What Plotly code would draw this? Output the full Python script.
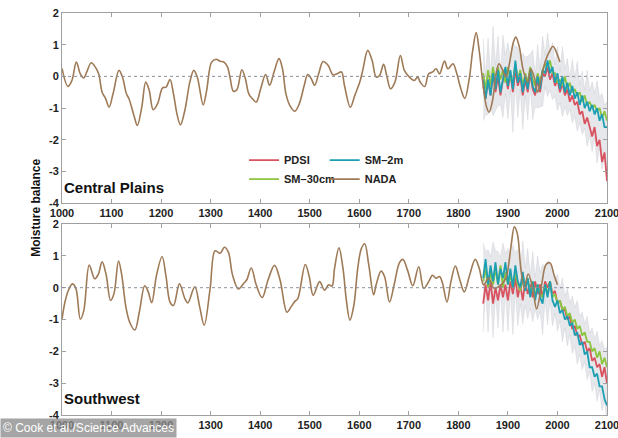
import plotly.graph_objects as go
from plotly.subplots import make_subplots

# ---------------- DATA ----------------
x_ticks = [1000, 1100, 1200, 1300, 1400, 1500, 1600, 1700, 1800, 1900, 2000, 2100]
y_ticks = [2, 1, 0, -1, -2, -3, -4]

# NADA reconstruction, Central Plains
nada_cp_years = [1000, 1012, 1020, 1029, 1037, 1044, 1050, 1059, 1067, 1074, 1081, 1088, 1095, 1103,
                 1115, 1122, 1130, 1135, 1146, 1152, 1161, 1169, 1176, 1184, 1193, 1203, 1210, 1218,
                 1225, 1232, 1239, 1248, 1258, 1266, 1273, 1285, 1292, 1302, 1311, 1319, 1327, 1334,
                 1339, 1346, 1353, 1363, 1370, 1377, 1384, 1392, 1401, 1411, 1419, 1428, 1438, 1445,
                 1452, 1460, 1470, 1479, 1489, 1496, 1503, 1510, 1518, 1527, 1537, 1547, 1555, 1564,
                 1570, 1582, 1591, 1601, 1607, 1617, 1626, 1634, 1641, 1649, 1656, 1663, 1672, 1683,
                 1691, 1701, 1711, 1718, 1723, 1732, 1740, 1748, 1755, 1762, 1772, 1779, 1789, 1797,
                 1805, 1813, 1822, 1829, 1836, 1842, 1850, 1857, 1862, 1869, 1876, 1882, 1889, 1896,
                 1903, 1911, 1916, 1923, 1931, 1940, 1946, 1953, 1960, 1966, 1976, 1985, 1991, 1999,
                 2005]
nada_cp_vals = [0.25, -0.32, -0.13, 0.45, 0.08, -0.05, 0.14, 0.43, 0.30, 0.08, -0.50, -0.70, -0.97, -0.55,
                0.19, -0.02, -0.55, -0.70, -1.28, -1.55, -0.97, -0.18, -0.44, -1.05, -0.86, -0.36, -0.34, -0.10,
                -0.55, -1.18, -1.53, -1.07, -0.18, 0.19, -0.02, -0.90, -0.44, 0.45, 0.54, 0.48, 0.45, 0.30,
                -0.02, -0.47, -0.42, 0.21, -0.07, -0.55, -0.70, -0.81, -0.39, 0.06, -0.28, 0.14, 0.56, 0.24,
                -0.55, -0.92, -1.10, -0.86, -0.28, 0.06, -0.07, -0.28, 0.08, 0.47, 0.35, 0.05, 0.08, 0.14,
                -0.28, -0.97, -0.60, -0.18, 0.19, 0.82, 0.50, -0.02, 0.03, 0.38, -0.02, -0.39, -0.18, 0.66,
                0.19, -0.02, -0.13, -0.02, -0.18, -0.32, 0.08, 0.14, 0.24, 0.08, 0.48, 0.24, 0.40, 0.08,
                -0.39, -0.70, -0.07, 0.82, 1.38, 0.82, -0.28, -0.97, -1.13, -0.76, 0.08, 0.40, 0.21, -0.02,
                0.40, 1.08, 1.24, 0.93, 0.19, -0.18, 0.24, -0.02, -0.50, -0.13, 0.50, 0.82, 0.95, 0.72,
                0.45]

# NADA reconstruction, Southwest
nada_sw_years = [1000, 1006, 1013, 1021, 1028, 1037, 1044, 1055, 1066, 1073, 1081, 1089, 1098, 1105,
                 1114, 1120, 1129, 1137, 1147, 1156, 1167, 1174, 1181, 1191, 1202, 1210, 1218, 1225,
                 1237, 1248, 1254, 1268, 1278, 1287, 1299, 1309, 1319, 1328, 1336, 1344, 1356, 1367,
                 1373, 1382, 1392, 1404, 1416, 1429, 1440, 1454, 1462, 1470, 1476, 1491, 1499, 1507,
                 1520, 1530, 1538, 1545, 1550, 1559, 1567, 1574, 1581, 1589, 1597, 1604, 1611, 1619,
                 1629, 1634, 1644, 1651, 1661, 1671, 1681, 1688, 1698, 1708, 1720, 1730, 1740, 1748,
                 1755, 1762, 1768, 1777, 1785, 1794, 1802, 1812, 1822, 1834, 1842, 1851, 1861, 1872,
                 1886, 1896, 1906, 1913, 1919, 1926, 1933, 1941, 1950, 1958, 1968, 1977, 1985, 1993,
                 2000]
nada_sw_vals = [-0.99, -0.45, -0.08, 0.12, -0.02, -0.99, -0.72, 0.71, 0.28, 0.41, 0.81, 0.41, -0.40, -0.18,
                0.84, 0.46, -0.61, -1.10, -1.33, -0.77, 0.06, -0.13, -0.47, 0.41, 0.98, 0.35, -0.45, -0.56,
                0.12, -0.34, -0.48, 0.03, -0.61, -1.18, -0.02, 1.16, 1.08, 1.27, 1.11, 0.41, -0.04, 0.14,
                0.25, 0.62, 0.09, -0.31, 0.25, 0.70, 0.25, -0.77, -0.61, -0.43, -0.34, 0.73, 0.35, -0.24,
                0.19, -0.08, 0.09, 0.05, 0.60, 1.25, 0.62, -0.40, -1.02, -0.56, 0.62, 1.22, 1.38, 0.73,
                -0.22, 0.09, 0.52, 0.35, -0.45, 0.14, 0.78, 0.89, 0.52, 0.06, 0.66, -0.02, 0.19, 0.39,
                0.30, 0.35, 0.14, -0.45, 0.19, 0.68, 0.30, -0.13, 0.35, 0.89, 0.62, 0.09, 0.30, -0.02,
                0.09, 0.30, 1.27, 1.91, 1.70, 0.62, -0.02, 0.43, -0.02, -0.67, 0.09, 0.73, 0.78, 0.41,
                0.09]

# Model simulations, 1850-2100 every 5 years
model_years = list(range(1850, 2101, 5))

pdsi_cp = [-0.3, -0.7, -0.1, -0.6, 0.1, -0.5, 0.0, -0.6, -0.1, 0.1,
           -0.4, 0.1, -0.5, 0.2, -0.3, 0.0, -0.6, -0.1, -0.5, 0.1,
           -0.4, -0.6, -0.1, -0.5, 0.1, 0.0, 0.3, -0.1, 0.1, -0.3,
           -0.1, -0.5, -0.2, -0.6, -0.4, -0.8, -0.6, -0.9, -0.8, -1.2,
           -1.1, -1.5, -1.3, -1.6, -1.9, -1.6, -2.2, -2.0, -2.7, -2.4,
           -3.3]
sm30_cp = [0.1, -0.4, 0.2, -0.3, 0.3, -0.2, 0.3, -0.1, 0.2, -0.2,
           0.3, -0.1, -0.2, 0.4, -0.1, 0.2, -0.3, 0.1, -0.2, 0.3,
           -0.1, -0.3, 0.1, -0.2, 0.2, 0.4, 0.3, 0.5, 0.1, 0.1,
           -0.2, -0.1, -0.3, 0.0, -0.4, -0.2, -0.5, -0.4, -0.6, -0.5,
           -0.8, -0.6, -0.9, -0.8, -1.0, -0.9, -1.1, -1.0, -1.3, -1.1,
           -1.4]
sm2m_cp = [-0.1, -0.7, -0.1, -0.6, 0.1, -0.4, 0.2, -0.5, -0.1, 0.3,
           -0.3, 0.2, -0.4, 0.5, -0.2, 0.1, -0.5, 0.0, -0.4, 0.2,
           -0.3, -0.5, 0.0, -0.4, 0.2, 0.1, 0.5, 0.1, 0.3, -0.2,
           0.1, -0.4, 0.0, -0.5, -0.2, -0.6, -0.3, -0.7, -0.5, -0.9,
           -0.6, -1.0, -0.8, -1.1, -0.9, -1.2, -1.0, -1.4, -1.2, -1.6,
           -1.6]
spread_cp = [1.3, 0.6, 1.2, 0.5, 1.4, 0.7, 1.1, 0.5, 1.3, 0.6,
             1.2, 0.5, 1.4, 0.6, 1.1, 0.5, 1.2, 0.6, 1.0, 0.5,
             1.1, 0.5, 1.0, 0.6, 1.1, 0.5, 1.0, 0.6, 0.9, 0.5,
             1.0, 0.5, 1.1, 0.6, 0.9, 0.5, 1.0, 0.6, 1.1, 0.6,
             1.0, 0.6, 1.2, 0.7, 1.1, 0.7, 1.3, 0.8, 1.2, 0.8,
             1.3]

pdsi_sw = [-0.5, 0.1, -0.4, 0.2, -0.5, 0.0, -0.4, 0.1, -0.3, 0.1,
           -0.4, 0.2, -0.2, 0.3, -0.3, 0.1, -0.4, 0.2, -0.2, 0.1,
           -0.3, 0.2, -0.2, 0.1, -0.3, 0.2, 0.0, 0.2, -0.2, -0.1,
           -0.5, -0.4, -0.7, -0.7, -1.0, -0.9, -1.3, -1.2, -1.5, -1.5,
           -1.8, -1.7, -2.0, -1.9, -2.3, -2.2, -2.5, -2.4, -2.8, -2.5,
           -3.0]
sm30_sw = [0.2, 0.6, 0.0, 0.5, 0.1, 0.6, 0.1, 0.7, 0.0, 0.5,
           0.1, 0.4, 0.0, 0.5, 0.1, -0.1, 0.4, 0.0, 0.3, -0.2,
           0.2, -0.3, 0.1, -0.2, -0.3, 0.1, -0.2, 0.2, -0.3, -0.2,
           -0.5, -0.4, -0.7, -0.6, -0.9, -0.8, -1.1, -1.0, -1.3, -1.2,
           -1.5, -1.4, -1.7, -1.7, -2.0, -1.9, -2.2, -2.0, -2.4, -2.2,
           -2.5]
sm2m_sw = [0.3, 0.9, 0.1, 0.7, 0.2, 0.8, 0.1, 0.6, 0.3, 0.8,
           0.1, 0.6, 0.0, 0.7, 0.2, 0.0, 0.5, -0.1, 0.3, -0.3,
           0.2, -0.4, 0.1, -0.3, -0.5, 0.1, -0.3, 0.2, -0.4, -0.6,
           -0.4, -0.8, -0.7, -1.0, -0.9, -1.2, -1.1, -1.5, -1.4, -1.8,
           -1.7, -2.1, -2.0, -2.5, -2.5, -2.8, -2.7, -3.1, -3.1, -3.5,
           -3.7]
spread_sw = [1.4, 0.6, 1.3, 0.5, 1.5, 0.7, 1.2, 0.5, 1.4, 0.6,
             1.3, 0.5, 1.4, 0.6, 1.2, 0.5, 1.3, 0.6, 1.1, 0.5,
             1.1, 0.5, 1.0, 0.6, 1.1, 0.5, 1.0, 0.6, 0.9, 0.5,
             0.9, 0.5, 1.0, 0.5, 0.9, 0.5, 0.9, 0.6, 1.0, 0.6,
             0.9, 0.6, 1.0, 0.6, 1.0, 0.7, 1.1, 0.7, 1.1, 0.8,
             1.2]

panel_names = ["Central Plains", "Southwest"]

for arr in (pdsi_cp, sm30_cp, sm2m_cp, spread_cp, pdsi_sw, sm30_sw, sm2m_sw, spread_sw):
    assert len(arr) == len(model_years)
assert len(nada_cp_years) == len(nada_cp_vals)
assert len(nada_sw_years) == len(nada_sw_vals)

# ---------------- STYLE ----------------
C_PDSI = "#d9525f"
C_SM30 = "#8cc540"
C_SM2M = "#1d9fb2"
C_NADA = "#9e7a56"
FONT = "Liberation Sans Narrow, Liberation Sans, Arial, sans-serif"

fig = make_subplots(rows=2, cols=1)

panels = [
    (nada_cp_years, nada_cp_vals, pdsi_cp, sm30_cp, sm2m_cp, spread_cp),
    (nada_sw_years, nada_sw_vals, pdsi_sw, sm30_sw, sm2m_sw, spread_sw),
]

for i, (ny, nv, pd_, s30, s2m, spr) in enumerate(panels):
    row = i + 1
    center = [(a + b + c) / 3 for a, b, c in zip(pd_, s30, s2m)]
    upper = [c + s for c, s in zip(center, spr)]
    lower = [c - s for c, s in zip(center, spr)]
    fig.add_trace(go.Scatter(x=model_years, y=upper, mode="lines",
                             line=dict(width=0.6, color="rgba(190,192,200,0.5)"),
                             showlegend=False, hoverinfo="skip"), row=row, col=1)
    fig.add_trace(go.Scatter(x=model_years, y=lower, mode="lines", fill="tonexty",
                             fillcolor="rgba(190,193,202,0.38)",
                             line=dict(width=0.6, color="rgba(190,192,200,0.5)"),
                             showlegend=False, hoverinfo="skip"), row=row, col=1)
    show = (i == 0)
    fig.add_trace(go.Scatter(x=model_years, y=pd_, mode="lines", name="PDSI",
                             line=dict(color=C_PDSI, width=1.8), showlegend=show,
                             legend="legend"), row=row, col=1)
    fig.add_trace(go.Scatter(x=model_years, y=s30, mode="lines", name="SM\u201330cm",
                             line=dict(color=C_SM30, width=1.8), showlegend=show,
                             legend="legend"), row=row, col=1)
    fig.add_trace(go.Scatter(x=model_years, y=s2m, mode="lines", name="SM\u20132m",
                             line=dict(color=C_SM2M, width=1.8), showlegend=show,
                             legend="legend2"), row=row, col=1)
    fig.add_trace(go.Scatter(x=ny, y=nv, mode="lines", name="NADA",
                             line=dict(color=C_NADA, width=1.6, shape="spline", smoothing=1.0),
                             showlegend=show, legend="legend2"), row=row, col=1)
    fig.add_hline(y=0, line=dict(color="#8a8f99", width=1, dash="dot"), row=row, col=1)

axis_common = dict(showline=True, linecolor="#a0a0a0", linewidth=1, mirror="ticks",
                   ticks="inside", ticklen=4, tickcolor="#a0a0a0", showgrid=False, zeroline=False,
                   automargin=False, ticklabeloverflow="allow",
                   tickfont=dict(family=FONT, size=11, color="#222", weight="bold"))

for r in (1, 2):
    fig.update_xaxes(range=[1000, 2100], tickvals=x_ticks, ticktext=[str(t) for t in x_ticks],
                     row=r, col=1, **axis_common)
    fig.update_yaxes(range=[-4, 2], tickvals=y_ticks,
                     ticktext=[("-" + str(-t)) if t < 0 else str(t) for t in y_ticks],
                     row=r, col=1, **axis_common)

legend_font = dict(family=FONT, size=11, color="#222", weight="bold")
fig.update_layout(
    width=618, height=438,
    margin=dict(l=62, r=11, t=13, b=23, autoexpand=False),
    paper_bgcolor="white", plot_bgcolor="white",
    yaxis=dict(domain=[0.527, 1.0]),
    yaxis2=dict(domain=[0.0, 0.475]),
    legend=dict(x=0.334, y=0.67, xanchor="left", yanchor="top", bgcolor="rgba(0,0,0,0)",
                font=legend_font, itemwidth=30, tracegroupgap=0, traceorder="normal"),
    legend2=dict(x=0.482, y=0.67, xanchor="left", yanchor="top", bgcolor="rgba(0,0,0,0)",
                 font=legend_font, itemwidth=30, tracegroupgap=0, traceorder="normal"),
    showlegend=True,
)

# panel labels
fig.add_annotation(text=panel_names[0], xref="paper", yref="paper", x=0.0, y=0.567,
                   xanchor="left", yanchor="middle", showarrow=False,
                   font=dict(family=FONT, size=15, color="#111", weight="bold"))
fig.add_annotation(text=panel_names[1], xref="paper", yref="paper", x=0.0, y=0.042,
                   xanchor="left", yanchor="middle", showarrow=False,
                   font=dict(family=FONT, size=15, color="#111", weight="bold"))
# y axis title
fig.add_annotation(text="Moisture balance", xref="paper", yref="paper", x=-0.048, y=0.515,
                   xanchor="center", yanchor="middle", textangle=-90, showarrow=False,
                   font=dict(family=FONT, size=12, color="#111", weight="bold"))
# watermark
fig.add_annotation(text="\u00a9 Cook et al./Science Advances", xref="paper", yref="paper",
                   x=-0.114, y=-0.033, xanchor="left", yanchor="middle", showarrow=False,
                   bgcolor="rgba(140,140,140,0.78)", borderpad=2,
                   font=dict(family="Liberation Sans, Arial, sans-serif", size=12, color="white"))

fig.write_html("out.html", config={"displayModeBar": False},
               post_script="document.body.style.margin='0';document.body.style.overflow='hidden';")
